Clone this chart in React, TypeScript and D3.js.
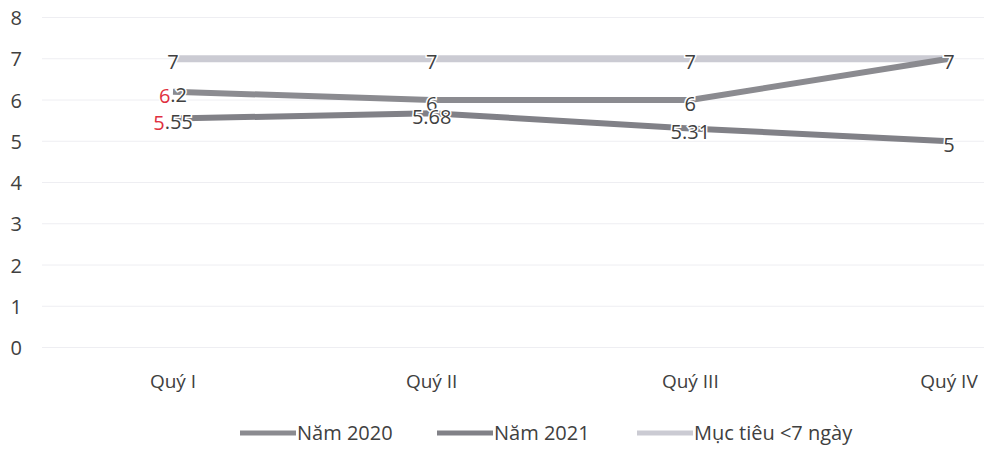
import React from "react";
import * as d3 from "d3";

// Average processing time per quarter (days)
const categories = ["Quý I", "Quý II", "Quý III", "Quý IV"];
const values2020 = [6.2, 6, 6, 7];
const values2021 = [5.55, 5.68, 5.31, 5];
const valuesTarget = [7, 7, 7, 7];
const yTicks = [0, 1, 2, 3, 4, 5, 6, 7, 8];

const seriesNames = ["Năm 2020", "Năm 2021", "Mục tiêu <7 ngày"];

const W = 984;
const H = 449;
const FONT = "'Open Sans', 'Noto Sans', sans-serif";
const TEXT = "#404040";

const x = d3.scalePoint<string>().domain(categories).range([173, 949]);
const y = d3.scaleLinear().domain([0, 8]).range([347.5, 17.5]);

const line = d3
  .line<number>()
  .x((_, i) => x(categories[i]) as number)
  .y((d) => y(d));

type Series = { name: string; values: number[]; color: string; width: number };

const series: Series[] = [
  { name: seriesNames[2], values: valuesTarget, color: "#cbcbd3", width: 7 },
  { name: seriesNames[0], values: values2020, color: "#8b8b90", width: 6 },
  { name: seriesNames[1], values: values2021, color: "#818187", width: 6 },
];

// Some labels show the leading digit in red
const redLead = new Set(["2020-0", "2021-0"]);

function DataLabel({ v, i, key2 }: { v: number; i: number; key2: string }) {
  const s = String(v);
  const red = redLead.has(`${key2}-${i}`);
  return (
    <text
      x={x(categories[i])}
      y={y(v) + 3}
      textAnchor="middle"
      dominantBaseline="central"
      fontFamily={FONT}
      fontSize={20}
      fill={TEXT}
      stroke="#ffffff"
      strokeWidth={3}
      style={{ paintOrder: "stroke" }}
    >
      {red ? (
        <>
          <tspan fill="#e03040">{s[0]}</tspan>
          {s.slice(1)}
        </>
      ) : (
        s
      )}
    </text>
  );
}

const legendItems = [
  { name: seriesNames[0], color: "#8b8b90", x0: 240 },
  { name: seriesNames[1], color: "#818187", x0: 437 },
  { name: seriesNames[2], color: "#cbcbd3", x0: 637 },
];

export default function App() {
  return (
    <svg
      width={W}
      height={H}
      viewBox={`0 0 ${W} ${H}`}
      style={{ position: "absolute", left: 0, top: 0, background: "#ffffff" }}
    >
      <rect width={W} height={H} fill="#ffffff" />
      {/* horizontal gridlines */}
      {yTicks.map((t) => (
        <line
          key={`g${t}`}
          x1={42}
          x2={W}
          y1={y(t)}
          y2={y(t)}
          stroke="#eeeef2"
          strokeWidth={1}
        />
      ))}
      {/* y tick labels */}
      {yTicks.map((t) => (
        <text
          key={`t${t}`}
          x={22}
          y={y(t)}
          textAnchor="end"
          dominantBaseline="central"
          fontFamily={FONT}
          fontSize={20}
          fill={TEXT}
        >
          {t}
        </text>
      ))}
      {/* category labels */}
      {categories.map((c) => (
        <text
          key={c}
          x={x(c)}
          y={381}
          textAnchor="middle"
          dominantBaseline="central"
          fontFamily={FONT}
          fontSize={19}
          fill={TEXT}
        >
          {c}
        </text>
      ))}
      {/* series lines */}
      {series.map((s) => (
        <path
          key={s.name}
          d={line(s.values) ?? ""}
          fill="none"
          stroke={s.color}
          strokeWidth={s.width}
          strokeLinejoin="round"
        />
      ))}
      {/* data labels */}
      {valuesTarget.map((v, i) => (
        <DataLabel key={`lt${i}`} v={v} i={i} key2="target" />
      ))}
      {values2020.map((v, i) => (
        <DataLabel key={`l0${i}`} v={v} i={i} key2="2020" />
      ))}
      {values2021.map((v, i) => (
        <DataLabel key={`l1${i}`} v={v} i={i} key2="2021" />
      ))}
      {/* legend */}
      {legendItems.map((l) => (
        <g key={l.name}>
          <line
            x1={l.x0}
            x2={l.x0 + 56}
            y1={433}
            y2={433}
            stroke={l.color}
            strokeWidth={5}
          />
          <text
            x={l.x0 + 57}
            y={432}
            dominantBaseline="central"
            fontFamily={FONT}
            fontSize={20}
            fill={TEXT}
          >
            {l.name}
          </text>
        </g>
      ))}
    </svg>
  );
}
